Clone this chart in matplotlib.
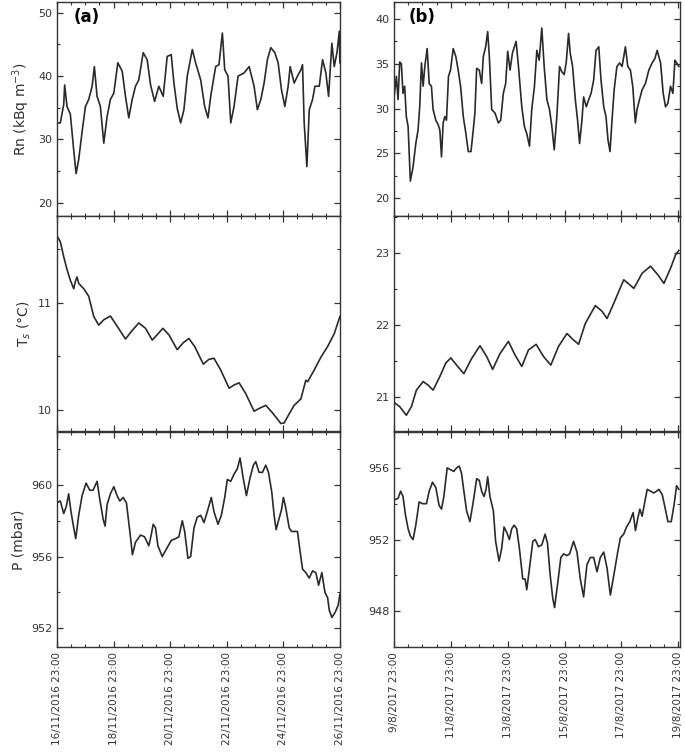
import matplotlib
matplotlib.use("Agg")
import matplotlib.pyplot as plt
from matplotlib.ticker import MultipleLocator, FixedLocator, FixedFormatter

# hours since start (16/11/2016 23:00 and 9/8/2017 23:00)
rn_a_h = [0, 2.8, 5.7, 6.5, 8.5, 11.3, 14.2, 16.2, 18.4, 21.3, 24.1, 26.9, 29.8, 31.7, 34, 36.8,
          39.7, 42.5, 45.3, 48.2, 51.6, 55.3, 58.1, 60.9, 63.8, 66.6, 69.4, 73.1, 76.5, 79.4, 82.8,
          86.4, 90.1, 93.5, 96.9, 99.2, 102, 104.9, 107.7, 110.5, 114.8, 117.6, 121.9, 125.3, 128.1,
          130.4, 134.6, 137.4, 140.3, 142.3, 145.1, 147.4, 150.2, 153.6, 158.7, 163, 167.2, 170,
          172.9, 175.7, 178.5, 181.4, 184.8, 187.6, 190.4, 193.3, 196.1, 197.8, 201.2, 204, 206.9,
          208.3, 209.7, 212, 214, 216.8, 218.8, 222.5, 225.3, 228.1, 230.4, 233.2, 235.2, 237.5,
          239.5, 240]
rn_a = [32.6, 32.6, 35.5, 38.6, 35.2, 34, 28.3, 24.6, 26.8, 31.2, 35.2, 36.3, 38.4, 41.5, 36.8, 35.2,
        29.4, 33.6, 36.3, 37.3, 42.1, 40.8, 36.8, 33.4, 36.3, 38.4, 39.4, 43.7, 42.6, 38.6, 36.0,
        38.4, 36.8, 43.1, 43.4, 38.9, 34.9, 32.6, 34.7, 40.0, 44.2, 42.1, 39.4, 35.2, 33.4,
        36.8, 41.5, 41.8, 46.8, 41.0, 40.0, 32.6, 35.2, 40.0, 40.5, 41.5, 38.4, 34.7,
        36.3, 38.9, 42.6, 44.5, 43.7, 42.1, 37.9, 35.2, 38.4, 41.5, 38.9, 40.0, 41.0,
        41.8, 32.6, 25.7, 34.7, 36.3, 38.4, 38.4, 42.6, 40.5, 36.8, 45.2, 41.5, 43.7,
        47.1, 42.1]

rn_b_h = [0, 2.0, 3.4, 4.8, 6.2, 7.6, 9.0, 10.4, 11.9, 13.8, 16.1, 18.4, 20.3, 21.7, 23.2, 24.6, 26.0,
          28.0, 29.7, 31.6, 33.0, 35.3, 37.3, 38.7, 40.1, 41.5, 42.9, 44.3, 46.0, 47.7, 50.0, 52.2,
          54.2, 56.2, 58.5, 60.7, 62.7, 65.0, 66.9, 68.3, 69.8, 72.0, 74.0, 75.4, 77.4, 79.1, 80.5,
          82.5, 85.3, 88.1, 90.1, 92.3, 94.3, 96.0, 98.0, 100.0, 103.1, 105.1, 107.9, 110.1, 112.1,
          114.4, 116.3, 118.6, 120.6, 122.6, 124.8, 126.8, 129.1, 131.3, 133.3, 135.3, 137.5, 139.8,
          141.8, 143.7, 145.4, 147.4, 148.8, 150.8, 153.1, 155.0, 156.7, 158.7, 160.1, 162.4, 164.4,
          166.4, 168.6, 170.6, 172.9, 174.8, 177.1, 179.0, 180.7, 182.4, 184.1, 185.9, 188.2, 190.5,
          192.6, 195.4, 197.4, 199.6, 201.6, 203.8, 205.2, 207.3, 209.5, 212.3, 215.2, 218.0, 220.3,
          222.2, 225.1, 227.3, 229.3, 231.3, 233.5, 235.5, 237.2, 239.2, 240.5]
rn_b = [31.3, 33.6, 31.0, 35.2, 35.0, 31.7, 32.5, 29.1, 28.0, 21.9, 23.5, 26.1, 27.6, 30.2, 35.1, 32.5, 34.7,
        36.7, 32.8, 32.5, 29.9, 28.7, 28.2, 27.6, 24.6, 28.4, 29.1, 28.7, 33.6, 34.3, 36.7, 35.8,
        34.3, 32.5, 29.1, 27.2, 25.2, 25.2, 27.6, 29.5, 34.5, 34.3, 32.8, 35.8, 36.9, 38.6, 35.8,
        29.9, 29.5, 28.4, 28.7, 31.7, 32.8, 36.4, 34.3, 36.2, 37.5, 34.7, 30.2, 28.0, 27.2,
        25.8, 29.9, 32.5, 36.5, 35.4, 39.0, 34.7, 31.0, 29.9, 28.0, 25.4, 29.1, 34.7,
        34.1, 33.8, 35.1, 38.4, 36.2, 34.7, 31.0, 28.7, 26.1, 28.7, 31.3, 30.2, 31.0,
        31.7, 33.2, 36.5, 36.9, 33.2, 30.2, 29.1, 26.5, 25.2, 28.7, 32.1, 34.7, 35.1,
        34.7, 36.9, 34.7, 34.3, 32.5, 28.4, 29.9, 31.0, 32.1, 32.8, 34.3, 35.1, 35.6,
        36.5, 35.1, 31.7, 30.2, 30.6, 32.5, 31.7, 35.4, 35.0, 34.7]

ts_a_h = [0, 2.8, 5.7, 8.5, 11.3, 14.2, 15.6, 17.0, 18.4, 22.7, 26.9, 31.2, 35.4, 39.7, 45.3, 51.0,
          58.1, 63.8, 69.4, 75.1, 80.8, 85.0, 89.8, 94.9, 102.0, 107.1, 111.9, 116.8, 124.1, 128.9,
          133.2, 138.9, 146.0, 150.2, 154.5, 160.1, 167.2, 171.4, 177.1, 182.8, 189.9, 192.7, 197.0,
          201.2, 206.9, 211.1, 212.6, 218.2, 223.9, 229.6, 235.2, 240]
ts_a = [11.625, 11.57, 11.43, 11.31, 11.21, 11.13, 11.20, 11.24, 11.18, 11.13, 11.06, 10.87, 10.79,
        10.84, 10.875, 10.78, 10.66, 10.74, 10.81, 10.76, 10.65, 10.70, 10.76, 10.70, 10.56, 10.625,
        10.665, 10.59, 10.425, 10.47, 10.48, 10.37, 10.20, 10.23, 10.25, 10.15, 9.985, 10.01, 10.04,
        9.97, 9.87, 9.875, 9.96, 10.04, 10.10, 10.275, 10.26, 10.37, 10.49, 10.59, 10.71, 10.87]

ts_b_h = [0, 4.8, 10.4, 14.7, 18.9, 24.6, 28.8, 33.0, 38.7, 43.8, 48.0, 52.8, 59.0, 65.5, 72.6, 78.2,
          83.3, 89.5, 96.6, 102.2, 107.9, 113.5, 120.0, 126.2, 132.4, 138.9, 146.0, 151.6, 155.9,
          161.5, 170.0, 175.7, 179.9, 185.5, 194.0, 199.1, 202.5, 209.5, 216.6, 222.8, 227.9, 233.5,
          237.8, 240.5]
ts_b = [20.92, 20.86, 20.74, 20.86, 21.09, 21.21, 21.16, 21.09, 21.28, 21.47, 21.54, 21.44, 21.32,
        21.53, 21.71, 21.56, 21.38, 21.60, 21.77, 21.58, 21.42, 21.65, 21.73, 21.56, 21.44, 21.70,
        21.88, 21.79, 21.73, 22.02, 22.27, 22.19, 22.09, 22.30, 22.63, 22.56, 22.51, 22.72, 22.82,
        22.70, 22.58, 22.79, 22.98, 23.04]

p_a_h = [0, 2.8, 5.7, 7.9, 9.9, 11.9, 14.2, 15.9, 18.4, 21.3, 24.7, 27.8, 30.6, 34.0, 36.3, 39.1,
         40.8, 42.5, 45.3, 48.2, 51.0, 53.3, 56.1, 58.9, 61.8, 64.0, 66.6, 70.9, 74.3, 77.9, 79.9,
         81.6, 83.6, 85.6, 89.3, 93.5, 96.9, 100.6, 103.4, 106.3, 108.3, 111.1, 113.4, 116.2, 119.0,
         121.9, 124.7, 127.5, 130.9, 133.2, 136.6, 139.4, 142.3, 144.5, 147.4, 150.2, 153.0, 155.3,
         157.9, 160.7, 163.8, 166.6, 168.6, 171.4, 174.3, 177.1, 179.4, 182.2, 184.2, 185.9, 187.9,
         190.4, 192.1, 194.1, 197.0, 198.9, 201.8, 204.0, 206.0, 208.3, 211.1, 214.0, 216.8, 219.6,
         221.9, 224.7, 227.3, 229.6, 231.0, 233.2, 236.1, 238.6, 240]
p_a = [959.0, 959.1, 958.4, 958.8, 959.5, 958.5, 957.6, 957.0, 958.3, 959.4, 960.1, 959.7, 959.7,
       960.2, 959.2, 958.1, 957.7, 958.9, 959.5, 959.9, 959.4, 959.1, 959.3, 959.0, 957.4, 956.1,
       956.8, 957.2, 957.1, 956.6, 957.2, 957.8, 957.6, 956.6, 956.0, 956.5, 956.9, 957.0, 957.1,
       958.0, 957.4, 955.9, 956.0, 957.6, 958.2, 958.3, 957.9, 958.5, 959.3, 958.5, 957.8, 958.3,
       959.3, 960.3, 960.2, 960.6, 960.9, 961.5, 960.4, 959.4, 960.4, 961.1, 961.3, 960.7, 960.7,
       961.1, 960.7, 959.6, 958.3, 957.5, 958.0, 958.6, 959.3, 958.7, 957.6, 957.4, 957.4, 957.4,
       956.4, 955.3, 955.1, 954.8, 955.2, 955.1, 954.4, 955.1, 954.0, 953.7, 953.0, 952.6, 952.9,
       953.3, 953.9]

p_b_h = [0, 3.4, 5.6, 7.6, 9.6, 11.9, 13.8, 16.1, 18.4, 21.2, 24.0, 27.4, 29.7, 32.5, 35.3, 38.1,
         40.1, 42.1, 44.9, 47.7, 50.5, 52.8, 55.1, 57.0, 59.0, 61.3, 64.1, 66.9, 69.8, 72.0, 74.0,
         76.0, 77.7, 79.1, 81.0, 83.9, 85.8, 88.7, 90.9, 92.9, 95.2, 97.4, 99.4, 101.4, 103.6, 105.9,
         108.7, 110.7, 112.1, 114.4, 117.2, 119.2, 122.0, 124.8, 127.6, 129.6, 131.9, 134.1, 135.6,
         138.1, 140.9, 143.2, 146.0, 148.3, 151.6, 154.5, 157.3, 160.1, 162.9, 165.8, 168.6, 171.4,
         174.2, 177.1, 179.9, 182.7, 186.1, 188.9, 191.2, 194.0, 196.3, 199.1, 201.9, 203.9, 205.9,
         207.6, 209.5, 211.5, 213.8, 216.6, 219.4, 221.7, 223.7, 226.5, 228.5, 231.3, 234.1, 236.4,
         238.6, 240.5]
p_b = [954.2, 954.3, 954.7, 954.4, 953.4, 952.6, 952.2, 952.0, 952.8, 954.1, 954.0, 954.0, 954.7,
       955.2, 954.9, 953.9, 953.7, 954.4, 956.0, 955.9, 955.8, 956.0, 956.1, 955.7, 954.7, 953.6,
       953.0, 954.1, 955.4, 955.3, 954.7, 954.4, 954.8, 955.5, 954.4, 953.6, 951.9, 950.8, 951.5,
       952.7, 952.4, 952.0, 952.6, 952.8, 952.6, 951.5, 949.8, 949.8, 949.2, 950.4, 951.9, 952.0,
       951.6, 951.7, 952.3, 951.8, 950.0, 948.7, 948.2, 949.5, 951.0, 951.2, 951.1, 951.2, 951.9,
       951.3, 949.8, 948.8, 950.6, 951.0, 951.0, 950.2, 951.0, 951.3, 950.4, 948.9, 950.2, 951.3,
       952.1, 952.3, 952.7, 953.0, 953.5, 952.5, 953.2, 953.7, 953.3, 954.0, 954.8, 954.7, 954.6,
       954.7, 954.8, 954.5, 953.9, 953.0, 953.0, 953.9, 955.0, 954.8]

labels_a = ["16/11/2016 23:00", "18/11/2016 23:00", "20/11/2016 23:00",
            "22/11/2016 23:00", "24/11/2016 23:00", "26/11/2016 23:00"]
labels_b = ["9/8/2017 23:00", "11/8/2017 23:00", "13/8/2017 23:00",
            "15/8/2017 23:00", "17/8/2017 23:00", "19/8/2017 23:00"]
tick_hours = [0, 48, 96, 144, 192, 240]

LINE = "#2a2a2a"
FRAME = "#333333"

fig = plt.figure(figsize=(6.85, 7.54), dpi=100)

col_x = [0.0832, 0.5752]
col_w = [0.413, 0.4175]
row_y = [0.7135, 0.4284, 0.1419]
row_h = [0.2838, 0.2851, 0.2851]

panels = [
    # (col, row, x, y, ylim, major, minor)
    (0, 0, rn_a_h, rn_a, (17.9, 51.7), 10, 5),
    (0, 1, ts_a_h, ts_a, (9.8, 11.81), 1, 0.5),
    (0, 2, p_a_h, p_a, (950.95, 962.95), 4, 2),
    (1, 0, rn_b_h, rn_b, (18.0, 41.9), 5, 2.5),
    (1, 1, ts_b_h, ts_b, (20.52, 23.52), 1, 0.5),
    (1, 2, p_b_h, p_b, (946.0, 958.0), 4, 2),
]

axes = {}
for col, row, x, y, ylim, major, minor in panels:
    ax = fig.add_axes([col_x[col], row_y[row], col_w[col], row_h[row]])
    ax.plot(x, y, color=LINE, lw=1.2)
    ax.set_xlim(0, 240 if col == 0 else 241.5)
    ax.set_ylim(*ylim)
    ax.yaxis.set_major_locator(MultipleLocator(major))
    ax.yaxis.set_minor_locator(MultipleLocator(minor))
    ax.xaxis.set_major_locator(FixedLocator(tick_hours))
    ax.xaxis.set_minor_locator(MultipleLocator(12))
    ax.tick_params(which="both", direction="in", top=True, right=True,
                   colors=FRAME, labelcolor="#333333", labelsize=8)
    ax.tick_params(which="major", length=4, width=0.9)
    ax.tick_params(which="minor", length=2, width=0.8)
    for s in ax.spines.values():
        s.set_color(FRAME)
        s.set_linewidth(1.0)
    if row == 2:
        ax.xaxis.set_major_formatter(FixedFormatter(labels_a if col == 0 else labels_b))
        plt.setp(ax.get_xticklabels(), rotation=90, fontsize=7.5)
    else:
        ax.set_xticklabels([])
    axes[(col, row)] = ax

axes[(0, 0)].set_ylabel("Rn (kBq m$^{-3}$)", fontsize=10, color="#333333", labelpad=4)
axes[(0, 1)].set_ylabel("T$_s$ (°C)", fontsize=10, color="#333333", labelpad=4)
axes[(0, 2)].set_ylabel("P (mbar)", fontsize=10, color="#333333", labelpad=4)

axes[(0, 0)].text(0.06, 0.93, "(a)", transform=axes[(0, 0)].transAxes,
                  fontsize=12, fontweight="bold", va="center")
axes[(1, 0)].text(0.05, 0.93, "(b)", transform=axes[(1, 0)].transAxes,
                  fontsize=12, fontweight="bold", va="center")

fig.savefig("out.png", dpi=100)
